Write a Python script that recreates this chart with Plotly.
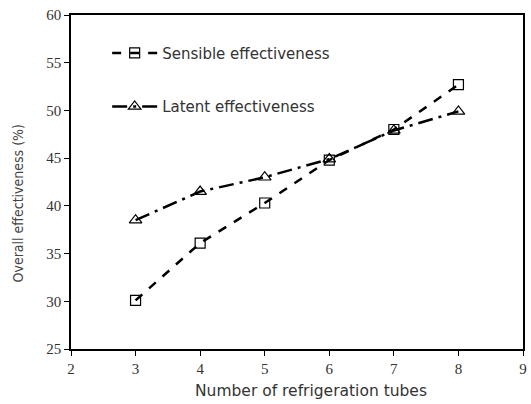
import plotly.graph_objects as go

tubes = [3, 4, 5, 6, 7, 8]
sensible = [30.1, 36.1, 40.3, 44.8, 48.0, 52.7]
latent = [38.5, 41.5, 43.0, 44.9, 47.9, 49.9]
x_title = "Number of refrigeration tubes"
y_title = "Overall effectiveness (%)"

fig = go.Figure()
fig.add_trace(go.Scatter(
    x=tubes, y=sensible, name="Sensible effectiveness", mode="lines+markers",
    legendgroup="s",
    line=dict(color="black", width=2.5, dash="dash"),
    marker=dict(symbol="square-open", size=10, color="black", line=dict(width=1.2)),
))
fig.add_trace(go.Scatter(
    x=tubes, y=latent, name="Latent effectiveness", mode="lines+markers",
    legendgroup="l",
    line=dict(color="black", width=2.5, dash="longdashdot"),
    marker=dict(symbol="triangle-up-open", size=11, color="black", line=dict(width=1.2)),
))

tickfont = dict(family="Liberation Serif", size=15, color="#333")
W, H = 531, 404
L, R, T, B = 71, 4, 15, 55
pw, ph = W - L - R, H - T - B
fig.update_layout(
    width=W, height=H,
    margin=dict(l=L, r=R, t=T, b=B),
    paper_bgcolor="white", plot_bgcolor="white",
    showlegend=True,
    legend=dict(x=0.08, y=0.935, xanchor="left", yanchor="top",
                bgcolor="rgba(0,0,0,0)", tracegroupgap=31, itemwidth=45,
                font=dict(family="DejaVu Sans", size=15, color="#333")),
    xaxis=dict(range=[2, 9], dtick=1, showgrid=False, zeroline=False,
               showline=True, linecolor="black", linewidth=1.5, mirror=True,
               ticks="outside", ticklen=5, tickcolor="black", tickfont=tickfont),
    yaxis=dict(range=[25, 60], dtick=5, showgrid=False, zeroline=False,
               showline=True, linecolor="black", linewidth=1.5, mirror=True,
               ticks="outside", ticklen=5, tickcolor="black", tickfont=tickfont),
)
fig.add_annotation(text=x_title, xref="paper", yref="paper",
                   x=(313 - L) / pw, y=-(391 - (T + ph)) / ph,
                   xanchor="center", yanchor="middle", showarrow=False,
                   font=dict(family="DejaVu Sans", size=15.5, color="#333"))
fig.add_annotation(text=y_title, xref="paper", yref="paper", textangle=-90,
                   x=-(L - 18) / pw, y=((T + ph) - 203) / ph,
                   xanchor="center", yanchor="middle", showarrow=False,
                   font=dict(family="DejaVu Sans Condensed, Open Sans", size=14, color="#444"))
fig.write_html("out.html", config={"displayModeBar": False},
               post_script="document.body.style.margin='0';")
